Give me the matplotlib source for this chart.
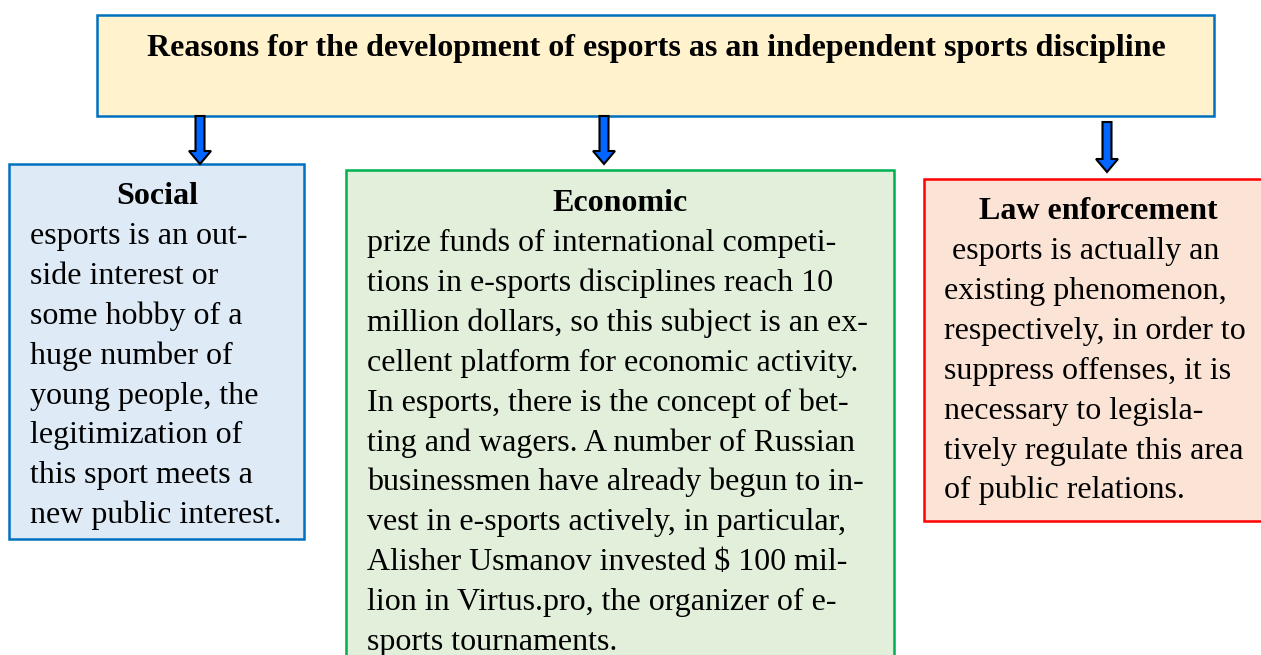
import matplotlib.pyplot as plt
from matplotlib.patches import Rectangle, FancyArrow

plt.rcParams['font.family'] = ['Liberation Serif', 'DejaVu Serif']

title = 'Reasons for the development of esports as an independent sports discipline'

social_head = 'Social'
social_lines = ['esports is an out-', 'side interest or', 'some hobby of a',
                'huge number of', 'young people, the', 'legitimization of',
                'this sport meets a', 'new public interest.']

econ_head = 'Economic'
econ_lines = ['prize funds of international competi-',
              'tions in e-sports disciplines reach 10',
              'million dollars, so this subject is an ex-',
              'cellent platform for economic activity.',
              'In esports, there is the concept of bet-',
              'ting and wagers. A number of Russian',
              'businessmen have already begun to in-',
              'vest in e-sports actively, in particular,',
              'Alisher Usmanov invested $ 100 mil-',
              'lion in Virtus.pro, the organizer of e-',
              'sports tournaments.']

law_head = 'Law enforcement'
law_lines = [' esports is actually an', 'existing phenomenon,',
             'respectively, in order to', 'suppress offenses, it is',
             'necessary to legisla-', 'tively regulate this area',
             'of public relations.']

W, H = 1261, 655
fig = plt.figure(figsize=(W / 100, H / 100), dpi=100)
ax = fig.add_axes([0, 0, 1, 1])
ax.set_xlim(0, W)
ax.set_ylim(H, 0)
ax.axis('off')

FS = 23
LS = 39.9

def box(x0, y0, x1, y1, fc, ec):
    ax.add_patch(Rectangle((x0, y0), x1 - x0, y1 - y0, facecolor=fc,
                           edgecolor=ec, linewidth=1.8, clip_on=False))

def arrow(x, y0, y1):
    ax.add_patch(FancyArrow(x, y0, 0, y1 - y0, width=9, head_width=22,
                            head_length=13, length_includes_head=True,
                            facecolor='#0066ff', edgecolor='black', linewidth=1.5))

def block(head, hx, hy, lines, lx, ly):
    ax.text(hx, hy, head, ha='center', va='baseline', fontsize=FS,
            fontweight='bold')
    for i, s in enumerate(lines):
        ax.text(lx, ly + i * LS, s, ha='left', va='baseline', fontsize=FS)

# title box
box(97, 15, 1214, 116, '#fff2cc', '#0070c0')
ax.text(656, 56, title, ha='center', va='baseline', fontsize=FS,
        fontweight='bold')

box(9, 164, 304, 539, '#deeaf6', '#0070c0')
box(346, 170, 894, 670, '#e2efda', '#00b050')
box(924, 179, 1266, 521, '#fbe4d5', '#ff0000')

arrow(200, 116, 164)
arrow(604, 116, 164)
arrow(1107, 122, 172)

block(social_head, 157, 204, social_lines, 30, 244)
block(econ_head, 620, 211, econ_lines, 367, 251)
block(law_head, 1098, 219, law_lines, 944, 259)

fig.savefig('out.png', dpi=100)
